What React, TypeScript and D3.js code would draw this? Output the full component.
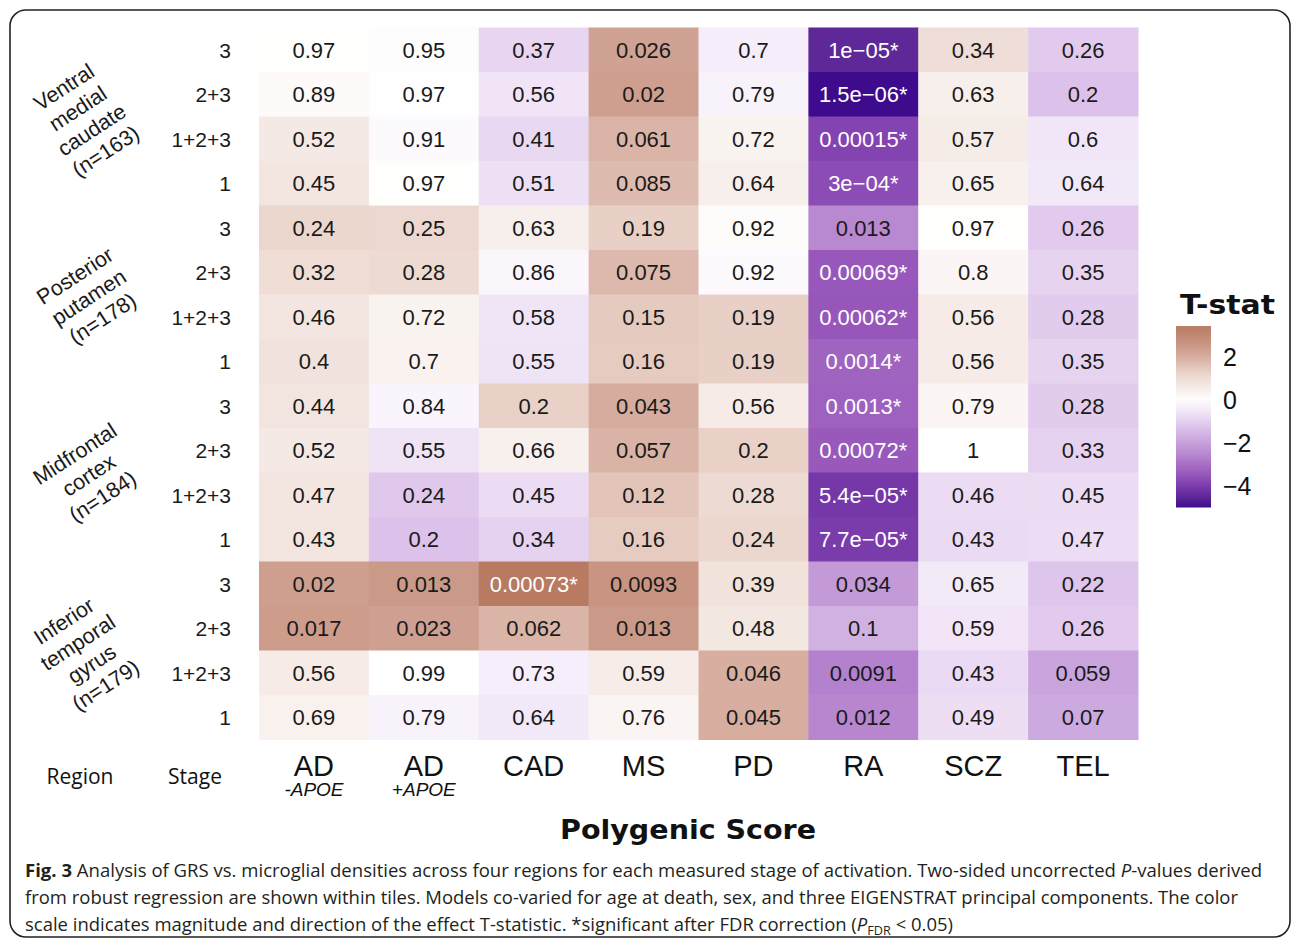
import React, { useEffect } from 'react';
import * as d3 from 'd3';

// Polygenic scores (columns)
const scores = ['AD', 'AD', 'CAD', 'MS', 'PD', 'RA', 'SCZ', 'TEL'];
const scoreSubs = ['-APOE', '+APOE', '', '', '', '', '', ''];

// Regions and stages (rows, top to bottom)
const regions = [
  ['Ventral', 'medial', 'caudate', '(n=163)'],
  ['Posterior', 'putamen', '(n=178)'],
  ['Midfrontal', 'cortex', '(n=184)'],
  ['Inferior', 'temporal', 'gyrus', '(n=179)'],
];
const stages = ['3', '2+3', '1+2+3', '1'];

// P-values shown in tiles, one row per region x stage
const pLabels = [
  ['0.97', '0.95', '0.37', '0.026', '0.7', '1e\u221205*', '0.34', '0.26'],
  ['0.89', '0.97', '0.56', '0.02', '0.79', '1.5e\u221206*', '0.63', '0.2'],
  ['0.52', '0.91', '0.41', '0.061', '0.72', '0.00015*', '0.57', '0.6'],
  ['0.45', '0.97', '0.51', '0.085', '0.64', '3e\u221204*', '0.65', '0.64'],
  ['0.24', '0.25', '0.63', '0.19', '0.92', '0.013', '0.97', '0.26'],
  ['0.32', '0.28', '0.86', '0.075', '0.92', '0.00069*', '0.8', '0.35'],
  ['0.46', '0.72', '0.58', '0.15', '0.19', '0.00062*', '0.56', '0.28'],
  ['0.4', '0.7', '0.55', '0.16', '0.19', '0.0014*', '0.56', '0.35'],
  ['0.44', '0.84', '0.2', '0.043', '0.56', '0.0013*', '0.79', '0.28'],
  ['0.52', '0.55', '0.66', '0.057', '0.2', '0.00072*', '1', '0.33'],
  ['0.47', '0.24', '0.45', '0.12', '0.28', '5.4e\u221205*', '0.46', '0.45'],
  ['0.43', '0.2', '0.34', '0.16', '0.24', '7.7e\u221205*', '0.43', '0.47'],
  ['0.02', '0.013', '0.00073*', '0.0093', '0.39', '0.034', '0.65', '0.22'],
  ['0.017', '0.023', '0.062', '0.013', '0.48', '0.1', '0.59', '0.26'],
  ['0.56', '0.99', '0.73', '0.59', '0.046', '0.0091', '0.43', '0.059'],
  ['0.69', '0.79', '0.64', '0.76', '0.045', '0.012', '0.49', '0.07'],
];

// T-statistics (estimated from tile colours)
const tStats = [
  [0.04, 0.06, -0.9, 2.25, -0.39, -4.5, 0.96, -1.13],
  [0.14, 0.03, -0.58, 2.35, -0.27, -5.0, 0.48, -1.29],
  [0.64, -0.11, -0.83, 1.89, 0.36, -3.86, 0.57, -0.52],
  [0.76, 0.04, -0.66, 1.73, 0.47, -3.68, 0.45, -0.47],
  [1.18, 1.15, 0.48, 1.31, 0.1, -2.5, 0.04, -1.13],
  [1.0, 1.08, -0.18, 1.79, -0.1, -3.45, 0.25, -0.94],
  [0.74, 0.36, -0.55, 1.44, 1.31, -3.49, 0.58, -1.08],
  [0.84, 0.39, -0.6, 1.41, 1.31, -3.24, 0.58, -0.94],
  [0.77, -0.2, 1.29, 2.04, 0.58, -3.27, 0.27, -1.08],
  [0.64, -0.6, 0.44, 1.91, 1.29, -3.44, 0.0, -0.98],
  [0.72, -1.18, -0.76, 1.56, 1.08, -4.1, -0.74, -0.76],
  [0.79, -1.29, -0.96, 1.41, 1.18, -4.02, -0.79, -0.72],
  [2.34, 2.5, 3.44, 2.63, 0.86, -2.14, -0.45, -1.23],
  [2.41, 2.29, 1.88, 2.5, 0.71, -1.65, -0.54, -1.13],
  [0.58, 0.01, -0.35, 0.54, 2.01, -2.64, -0.79, -1.9],
  [0.4, -0.27, -0.47, 0.31, 2.02, -2.53, -0.69, -1.82],
];

const legendTicks = [2, 0, -2, -4];

const colorStops = [-5.0, -4.5, -4.1, -3.45, -2.5, -1.15, 0, 1.15, 2.3, 3.44];
const colorRange = ['#3e0b8c', '#5e2898', '#7637a9', '#9858bb', '#b888d0', '#e0c9ed', '#ffffff', '#ecd8d0', '#cfa090', '#b97a62'];

const SANS = 'Liberation Sans, Arial, sans-serif';
const OPEN = '"Open Sans", sans-serif';

export default function App() {
  useEffect(() => {
    document.body.style.margin = '0';
  }, []);

  const width = 1292;
  const height = 942;
  const nRows = pLabels.length;

  const x = d3.scaleBand<number>().domain(d3.range(scores.length)).range([259, 1138]);
  const y = d3.scaleBand<number>().domain(d3.range(nRows)).range([27.5, 739.5]);
  const color = d3.scaleLinear<string>().domain(colorStops).range(colorRange).interpolate(d3.interpolateLab);

  // legend
  const tExtent = d3.extent(tStats.flat()) as [number, number];
  const ly = d3.scaleLinear().domain([0, 2]).range([400, 357]);
  const gradId = 'tstat-grad';
  const gradStops = d3.range(0, 1.0001, 0.05).map(f => {
    const v = tExtent[1] - f * (tExtent[1] - tExtent[0]);
    return { offset: f, color: color(v) };
  });

  let rowStart = 0;
  const regionBlocks = regions.map(lines => {
    const r0 = rowStart;
    rowStart += stages.length;
    const cy = (y(r0)! + y(r0 + stages.length - 1)! + y.bandwidth()) / 2;
    return { lines, cy };
  });

  return (
    <svg width={width} height={height} style={{ display: 'block', background: '#fff' }}>
      <rect x={10} y={10} width={1280} height={927} rx={16} fill="none" stroke="#222" strokeWidth={1.6} />

      {/* tiles */}
      {pLabels.map((row, r) =>
        row.map((lab, c) => {
          const sig = lab.endsWith('*');
          return (
            <g key={`${r}-${c}`}>
              <rect x={x(c)} y={y(r)} width={x.bandwidth() + 0.5} height={y.bandwidth() + 0.5} fill={color(tStats[r][c])} />
              <text
                x={x(c)! + x.bandwidth() / 2}
                y={y(r)! + y.bandwidth() / 2 + 8}
                textAnchor="middle"
                fontFamily={SANS}
                fontSize={22}
                fill={sig ? '#ffffff' : '#1a1a1a'}
              >
                {lab}
              </text>
            </g>
          );
        })
      )}

      {/* stage labels */}
      {d3.range(nRows).map(r => (
        <text key={`s${r}`} x={231} y={y(r)! + y.bandwidth() / 2 + 8} textAnchor="end" fontFamily={SANS} fontSize={21} fill="#1a1a1a">
          {stages[r % stages.length]}
        </text>
      ))}

      {/* region labels */}
      {regionBlocks.map((b, i) => (
        <g key={`r${i}`} transform={`translate(${b.lines.length === 4 ? 85 : 89},${b.cy + 3}) rotate(-33)`}>
          {b.lines.map((ln, j) => (
            <text
              key={j}
              x={0}
              y={(j - (b.lines.length - 1) / 2) * 25.5 + 7}
              textAnchor="middle"
              fontFamily={SANS}
              fontSize={21.5}
              fill="#1a1a1a"
            >
              {ln}
            </text>
          ))}
        </g>
      ))}

      {/* column labels */}
      {scores.map((s, c) => (
        <g key={`c${c}`}>
          <text x={x(c)! + x.bandwidth() / 2} y={776} textAnchor="middle" fontFamily={SANS} fontSize={29} fill="#111">
            {s}
          </text>
          {scoreSubs[c] && (
            <text x={x(c)! + x.bandwidth() / 2} y={796} textAnchor="middle" fontFamily={SANS} fontSize={19} fontStyle="italic" fill="#111">
              {scoreSubs[c]}
            </text>
          )}
        </g>
      ))}

      <text x={80} y={784} textAnchor="middle" fontFamily={OPEN} fontSize={21} fill="#111">Region</text>
      <text x={195} y={784} textAnchor="middle" fontFamily={OPEN} fontSize={21} fill="#111">Stage</text>

      <text x={688} y={839} textAnchor="middle" fontFamily="DejaVu Sans, Verdana, sans-serif" fontWeight="bold" fontSize={27} textLength={256} lengthAdjust="spacingAndGlyphs" fill="#111">
        Polygenic Score
      </text>

      {/* legend */}
      <text x={1180} y={314} fontFamily="DejaVu Sans, Verdana, sans-serif" fontWeight="bold" fontSize={26} textLength={95} lengthAdjust="spacingAndGlyphs" fill="#111">
        T-stat
      </text>
      <defs>
        <linearGradient id={gradId} x1="0" y1="0" x2="0" y2="1">
          {gradStops.map((s, i) => (
            <stop key={i} offset={s.offset} stopColor={s.color} />
          ))}
        </linearGradient>
      </defs>
      <rect x={1176} y={ly(tExtent[1])} width={35} height={ly(tExtent[0]) - ly(tExtent[1])} fill={`url(#${gradId})`} />
      {legendTicks.map(t => (
        <text key={`t${t}`} x={1223} y={ly(t) + 9} fontFamily={SANS} fontSize={25} fill="#111">
          {t < 0 ? `\u2212${Math.abs(t)}` : String(t)}
        </text>
      ))}

      {/* caption */}
      <g fontFamily={OPEN} fontSize={17.5} fill="#231f20">
        <text x={25} y={877} textLength={1237} lengthAdjust="spacingAndGlyphs">
          <tspan fontWeight="bold">Fig. 3</tspan> Analysis of GRS vs. microglial densities across four regions for each measured stage of activation. Two-sided uncorrected <tspan fontStyle="italic">P</tspan>-values derived
        </text>
        <text x={25} y={904} textLength={1213} lengthAdjust="spacingAndGlyphs">
          from robust regression are shown within tiles. Models co-varied for age at death, sex, and three EIGENSTRAT principal components. The color
        </text>
        <text x={25} y={931} textLength={928} lengthAdjust="spacingAndGlyphs">
          scale indicates magnitude and direction of the effect T-statistic. *significant after FDR correction (<tspan fontStyle="italic">P</tspan><tspan fontSize={12} dy={4}>FDR</tspan><tspan dy={-4}> &lt; 0.05)</tspan>
        </text>
      </g>
    </svg>
  );
}
